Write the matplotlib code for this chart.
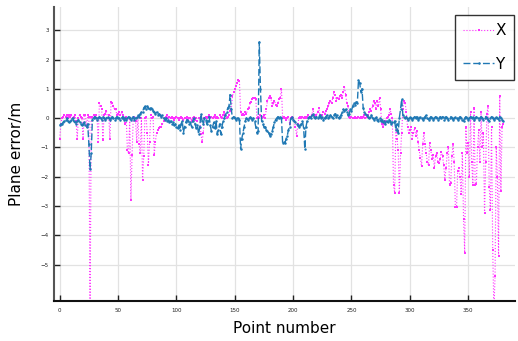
import matplotlib
matplotlib.use('Agg')
import matplotlib.pyplot as plt
import numpy as np

# Erreur plane en X, point par point
err_x = [
    -0.7, -0.2, 0.0, 0.05, 0.1, 0.05, 0.1, 0.0, 0.1, 0.05, 0.1, 0.0, 0.05, 0.1, -0.1, -0.7, 0.0, 0.1, 0.05, 0.0,
    -0.7, 0.1, 0.1, -0.3, 0.1, 0.05, -7.0, 0.05, 0.05, 0.1, 0.05, 0.1, 0.0, -0.8, 0.5, 0.4, 0.3, -0.75, 0.1, 0.15,
    0.25, 0.0, 0.1, -0.7, 0.55, 0.5, 0.4, 0.3, 0.3, 0.1, 0.15, 0.2, 0.1, 0.2, 0.1, 0.0, -0.2, 0.05, -1.1, -1.2,
    0.0, -2.8, -1.25, 0.0, 0.05, -0.1, -0.8, 0.05, -0.9, -1.2, 0.0, -2.1, -1.3, 0.0, 0.05, -0.5, -1.6, -0.8, 0.1, 0.0,
    0.05, -1.25, -0.8, -0.5, -0.4, -0.35, -0.3, -0.3, -0.2, -0.1, 0.0, 0.05, 0.1, 0.0, 0.05, 0.0, 0.05, 0.0, -0.05, 0.0,
    0.05, 0.0, -0.05, 0.0, 0.05, 0.0, -0.05, 0.0, 0.0, 0.05, -0.05, 0.0, 0.0, -0.1, 0.0, 0.05, -0.05, 0.0, -0.1, 0.0,
    0.0, -0.55, -0.8, -0.5, 0.0, 0.05, 0.0, 0.05, 0.1, 0.0, 0.05, 0.0, 0.05, 0.1, 0.0, 0.05, 0.0, 0.1, 0.05, 0.0,
    0.1, 0.2, 0.1, 0.0, 0.05, 0.1, 0.25, 0.3, 0.75, 0.9, 1.0, 1.1, 1.2, 1.3, 1.25, 0.2, 0.1, 0.15, 0.1, 0.2,
    0.15, 0.3, 0.35, 0.5, 0.55, 0.65, 0.7, 0.7, 0.65, 0.0, 0.05, 0.0, 0.1, 0.0, 0.05, 0.1, 0.0, 0.3, 0.6, 0.7,
    0.75, 0.7, 0.4, 0.5, 0.6, 0.45, 0.4, 0.5, 0.65, 0.7, 1.0, 0.0, 0.05, 0.0, -0.05, 0.0, 0.05, -0.2, 0.0, 0.05,
    0.0, -0.1, -0.3, -0.6, -0.2, 0.0, 0.05, 0.0, 0.05, 0.0, 0.05, 0.0, 0.05, 0.1, 0.0, 0.05, 0.1, 0.3, 0.1, 0.05,
    0.1, 0.2, 0.35, 0.1, 0.05, 0.1, 0.2, 0.15, 0.25, 0.3, 0.4, 0.5, 0.6, 0.5, 0.7, 0.9, 0.8, 0.6, 0.7, 0.65,
    0.75, 0.8, 0.7, 0.9, 1.05, 0.8, 0.5, 0.4, 0.05, 0.0, 0.05, 0.0, 0.0, 0.05, 0.0, 0.0, 0.05, 0.0, 0.05, 0.0,
    0.05, 0.1, 0.0, 0.05, 0.1, 0.2, 0.3, 0.25, 0.4, 0.6, 0.5, 0.3, 0.6, 0.4, 0.7, 0.3, -0.2, -0.3, -0.2, -0.1,
    0.0, 0.05, 0.1, 0.3, 0.15, 0.0, -2.3, -2.55, -0.3, -0.7, -1.1, -2.55, -1.2, -0.5, 0.3, 0.6, 0.5, 0.2, -0.3, -0.5,
    -0.4, -0.3, -0.7, -0.5, -0.35, -0.6, -0.45, -0.8, -1.1, -1.35, -1.65, -0.9, -0.5, -0.9, -1.2, -1.5, -1.6, -0.85, -1.1, -1.4,
    -1.25, -1.7, -1.3, -1.2, -1.5, -1.55, -1.4, -1.15, -1.3, -1.6, -2.1, -1.7, -1.2, -1.0, -2.3, -2.2, -1.3, -0.9, -1.5, -3.05,
    -3.05, -1.8, -1.7, -2.0, -2.6, -1.2, -3.45, -4.6, -0.3, -1.2, -0.85, -2.0, 0.2, -1.5, -2.3, 0.35, -2.3, -2.25, -1.0, -0.4,
    -1.5, 0.2, -1.0, -0.5, -3.25, -1.5, 0.15, 0.4, -2.35, -3.15, -0.3, -4.5, -6.6, -5.4, -1.0, -2.0, -4.7, 0.75, -2.5, -0.3, -0.2,
]

# Erreur plane en Y
err_y = [
    -0.25, -0.2, -0.2, -0.15, -0.1, -0.05, 0.0, -0.1, -0.15, -0.1, -0.05, 0.0, -0.1, -0.15, -0.2, -0.1, -0.05, -0.15, -0.2, -0.25,
    -0.2, -0.15, -0.25, -0.3, -0.2, -0.9, -1.75, -1.2, -0.05, 0.0, 0.05, 0.0, -0.05, 0.0, 0.05, 0.0, -0.05, 0.05, 0.0, -0.05,
    0.0, 0.05, 0.0, -0.05, 0.0, 0.05, 0.0, -0.05, 0.0, 0.05, 0.0, 0.0, -0.05, 0.0, 0.05, -0.05, 0.0, -0.05, 0.0, 0.05,
    0.0, -0.05, 0.0, 0.05, -0.05, 0.0, 0.05, 0.1, 0.05, 0.15, 0.2, 0.2, 0.35, 0.4, 0.3, 0.4, 0.35, 0.3, 0.35, 0.3,
    0.25, 0.2, 0.15, 0.2, 0.1, 0.15, 0.1, 0.05, 0.1, 0.0, -0.05, 0.0, -0.1, -0.05, -0.15, -0.1, -0.2, -0.15, -0.25, -0.2,
    -0.3, -0.35, -0.25, -0.4, -0.2, -0.1, -0.5, -0.3, -0.15, -0.05, -0.1, -0.2, -0.15, -0.3, -0.1, 0.0, -0.2, -0.35, -0.25, -0.55,
    -0.3, 0.15, -0.1, -0.2, 0.0, -0.05, -0.2, -0.1, 0.05, -0.25, -0.45, -0.3, -0.15, -0.35, -0.1, -0.55, -0.4, -0.2, -0.55, -0.3,
    -0.1, 0.0, 0.1, 0.2, 0.35, 0.4, 0.8, 0.3, 0.0, 0.05, 0.0, -0.05, 0.0, 0.0, -0.05, -1.05, -0.7, -0.5, -0.3, -0.1,
    0.0, -0.05, 0.0, 0.05, 0.0, -0.05, 0.0, -0.1, -0.3, -0.5, -0.45, 2.6, 1.0, -0.1, -0.2, -0.3, -0.3, -0.4, -0.45, -0.5,
    -0.6, -0.55, -0.45, -0.3, -0.15, -0.05, 0.0, 0.05, 0.0, 0.05, 0.0, -0.85, -0.8, -0.85, -0.7, -0.6, -0.4, -0.3, 0.0, 0.05,
    -0.05, -0.1, -0.15, -0.2, -0.25, -0.3, -0.25, -0.2, -0.1, -0.35, -1.05, -0.3, -0.1, 0.0, 0.05, 0.0, 0.1, 0.15, 0.05, 0.0,
    0.05, 0.0, 0.05, 0.1, 0.0, 0.05, -0.05, 0.0, 0.05, 0.1, 0.0, 0.05, 0.1, 0.05, 0.0, 0.1, 0.15, 0.05, 0.1, 0.0,
    0.05, 0.1, 0.2, 0.3, 0.25, 0.3, 0.2, 0.1, 0.15, 0.3, 0.25, 0.4, 0.5, 0.45, 0.55, 0.5, 1.3, 1.2, 0.9, 1.0,
    0.35, 0.2, 0.15, 0.1, 0.05, 0.0, 0.05, 0.1, 0.0, -0.05, 0.0, 0.05, -0.05, -0.1, 0.0, -0.1, -0.05, -0.15, -0.1, -0.2,
    -0.1, -0.15, -0.05, -0.1, -0.2, -0.15, -0.15, -0.1, -0.4, -0.2, -0.5, 0.0, 0.3, 0.65, 0.1, 0.05, 0.0, 0.05, -0.05, 0.0,
    0.05, 0.0, -0.05, 0.0, 0.05, 0.0, 0.05, -0.05, 0.0, 0.05, 0.0, -0.05, 0.0, 0.05, 0.1, 0.0, -0.05, 0.0, 0.05, 0.0,
    -0.05, 0.0, 0.05, 0.0, -0.05, 0.0, 0.05, 0.0, 0.05, -0.05, 0.0, 0.05, 0.0, -0.05, 0.0, 0.05, 0.0, -0.05, 0.0, 0.05,
    0.0, -0.05, 0.0, 0.05, 0.0, -0.05, -0.1, 0.0, 0.05, 0.0, -0.05, 0.0, 0.05, 0.0, 0.05, -0.05, 0.0, 0.05, 0.0, -0.05,
    0.0, 0.05, 0.0, -0.05, 0.0, 0.05, 0.0, -0.05, -0.1, 0.0, 0.05, 0.0, -0.05, 0.0, 0.05, 0.0, -0.05, 0.05, 0.0, -0.05, -0.1,
]

x_ticks = [0, 50, 100, 150, 200, 250, 300, 350]
y_ticks = [-5, -4, -3, -2, -1, 0, 1, 2, 3]

points = np.arange(len(err_x))

fig = plt.figure(figsize=(5.18, 3.41), dpi=100)
ax = fig.add_axes([0.104, 0.117, 0.89, 0.863])

ax.plot(points, err_x, color='#ff33ff', linestyle=':', linewidth=0.8,
        marker='s', markersize=1.6, markeredgewidth=0, label='X')
ax.plot(points, err_y, color='#1f78b4', linestyle=(0, (5, 2)), linewidth=1.0,
        marker='o', markersize=1.8, markeredgewidth=0, label='Y')

ax.set_xlim(-5, 390)
ax.set_ylim(-6.25, 3.8)
ax.set_xticks(x_ticks)
ax.set_yticks(y_ticks)
ax.tick_params(direction='in', labelsize=4, length=4, width=1, colors='#222222')
ax.tick_params(axis='x', pad=5)
ax.grid(True, color='#e2e2e2', linewidth=0.9)
ax.set_axisbelow(True)

for side in ['top', 'right']:
    ax.spines[side].set_visible(False)
ax.spines['left'].set_linewidth(1.5)
ax.spines['left'].set_color('#555555')
ax.spines['bottom'].set_linewidth(1.5)
ax.spines['bottom'].set_color('#111111')

ax.set_xlabel('Point number', fontsize=11, labelpad=6)
ax.set_ylabel('Plane error/m', fontsize=11, labelpad=12)

leg = ax.legend(loc='upper right', fontsize=11, fancybox=False, edgecolor='black',
                handlelength=2.0, handletextpad=0.1, borderpad=0.55, labelspacing=1.2,
                borderaxespad=0.0, bbox_to_anchor=(0.999, 0.973))
leg.get_frame().set_linewidth(1.0)

plt.savefig('out.png', dpi=100)
plt.close()
